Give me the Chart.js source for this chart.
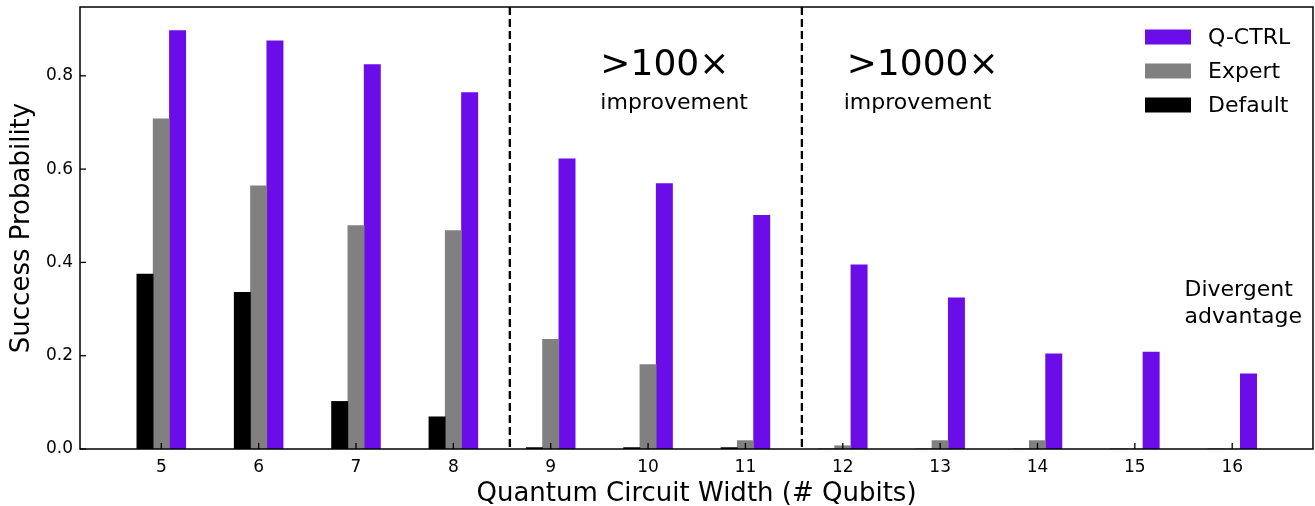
<!DOCTYPE html>
<html>
<head>
<meta charset="utf-8">
<script src="https://cdn.jsdelivr.net/npm/chart.js@4.4.1/dist/chart.umd.min.js"></script>
<style>
  html, body { margin: 0; padding: 0; background: #fff; }
  canvas { display: block; }
</style>
</head>
<body>
<canvas id="chart" width="1315" height="506"></canvas>
<script>
// data
const qubits  = [5, 6, 7, 8, 9, 10, 11, 12, 13, 14, 15, 16];
const qctrl   = [0.897, 0.875, 0.824, 0.764, 0.622, 0.569, 0.501, 0.395, 0.324, 0.204, 0.208, 0.161];
const expert  = [0.708, 0.564, 0.479, 0.468, 0.235, 0.181, 0.018, 0.007, 0.018, 0.018, 0, 0];
const dflt    = [0.375, 0.336, 0.102, 0.069, 0.003, 0.003, 0.003, 0, 0, 0, 0, 0];
const yTicks  = [0, 0.2, 0.4, 0.6, 0.8];
const dividers = [8.58, 11.58];

const FONT = "'DejaVu Sans', sans-serif";
const COLORS = { qctrl: '#6a0de8', expert: '#808080', dflt: '#000000' };

function pts(vals) {
    return qubits.map((q, i) => ({ x: q, y: vals[i] }));
}

// frame, inward ticks, dashed dividers, annotations, legend
const decorPlugin = {
    id: 'decor',
    afterDatasetsDraw(chart) {
        const { ctx, chartArea: a, scales: { x, y } } = chart;
        ctx.save();

        // dashed dividers
        ctx.strokeStyle = '#000';
        ctx.lineWidth = 2.3;
        ctx.setLineDash([8, 4]);
        dividers.forEach(v => {
            const px = x.getPixelForValue(v);
            ctx.beginPath();
            ctx.moveTo(px, a.top);
            ctx.lineTo(px, a.bottom);
            ctx.stroke();
        });
        ctx.setLineDash([]);

        // frame
        ctx.lineWidth = 1.5;
        ctx.strokeRect(a.left, a.top, a.right - a.left, a.bottom - a.top);

        // inward tick marks
        ctx.lineWidth = 1.3;
        qubits.forEach(q => {
            const px = x.getPixelForValue(q);
            ctx.beginPath();
            ctx.moveTo(px, a.bottom);
            ctx.lineTo(px, a.bottom - 6);
            ctx.stroke();
        });
        yTicks.forEach(t => {
            const py = y.getPixelForValue(t);
            ctx.beginPath();
            ctx.moveTo(a.left, py);
            ctx.lineTo(a.left + 6, py);
            ctx.stroke();
        });

        // text annotations
        ctx.fillStyle = '#000';
        ctx.textAlign = 'left';
        ctx.textBaseline = 'alphabetic';
        const notes = [
            { t: '>100\u00d7', x: 9.51, y: 0.802, size: 36 },
            { t: 'improvement', x: 9.51, y: 0.728, size: 22 },
            { t: '>1000\u00d7', x: 12.04, y: 0.802, size: 36 },
            { t: 'improvement', x: 12.01, y: 0.728, size: 22 },
            { t: 'Divergent', x: 15.51, y: 0.327, size: 22 },
            { t: 'advantage', x: 15.51, y: 0.270, size: 22 }
        ];
        notes.forEach(n => {
            ctx.font = n.size + 'px ' + FONT;
            ctx.fillText(n.t, x.getPixelForValue(n.x), y.getPixelForValue(n.y));
        });

        // legend (Q-CTRL on top)
        ctx.font = '22px ' + FONT;
        ctx.textBaseline = 'middle';
        const ds = chart.data.datasets.slice().reverse();
        ds.forEach((d, i) => {
            const cy = a.top + 30 + 34 * i;
            ctx.fillStyle = d.backgroundColor;
            ctx.fillRect(a.right - 168, cy - 7.5, 46, 15);
            ctx.fillStyle = '#000';
            ctx.fillText(d.label, a.right - 105, cy + 1);
        });

        ctx.restore();
    }
};

new Chart(document.getElementById('chart'), {
    type: 'bar',
    data: {
        datasets: [
            { label: 'Default', data: pts(dflt), backgroundColor: COLORS.dflt, barThickness: 16.3 },
            { label: 'Expert', data: pts(expert), backgroundColor: COLORS.expert, barThickness: 16.3 },
            { label: 'Q-CTRL', data: pts(qctrl), backgroundColor: COLORS.qctrl, barThickness: 16.3 }
        ]
    },
    options: {
        responsive: false,
        animation: false,
        layout: { padding: { top: 7, right: 2, left: 0, bottom: 0 } },
        plugins: { legend: { display: false }, tooltip: { enabled: false } },
        scales: {
            x: {
                type: 'linear',
                offset: false,
                min: 4.165,
                max: 16.83,
                afterBuildTicks: s => { s.ticks = qubits.map(v => ({ value: v })); },
                afterFit: s => { s.height = 57; s.paddingLeft = 0; s.paddingRight = 0; },
                grid: { display: false, drawTicks: false },
                border: { display: false },
                ticks: { color: '#000', font: { family: FONT, size: 17 }, padding: 8, maxRotation: 0,
                         callback: v => String(v) },
                title: { display: true, text: 'Quantum Circuit Width (# Qubits)', color: '#000',
                         font: { family: FONT, size: 26 }, padding: { top: 0, bottom: -4 } }
            },
            y: {
                min: 0,
                max: 0.9475,
                afterBuildTicks: s => { s.ticks = yTicks.map(v => ({ value: v })); },
                afterFit: s => { s.width = 80; s.paddingTop = 0; s.paddingBottom = 0; },
                grid: { display: false, drawTicks: false },
                border: { display: false },
                ticks: { color: '#000', font: { family: FONT, size: 17 }, padding: 7,
                         callback: v => v.toFixed(1) },
                title: { display: true, text: 'Success Probability', color: '#000',
                         font: { family: FONT, size: 26 }, padding: { top: 7, bottom: 0 } }
            }
        }
    },
    plugins: [decorPlugin]
});
</script>
</body>
</html>
